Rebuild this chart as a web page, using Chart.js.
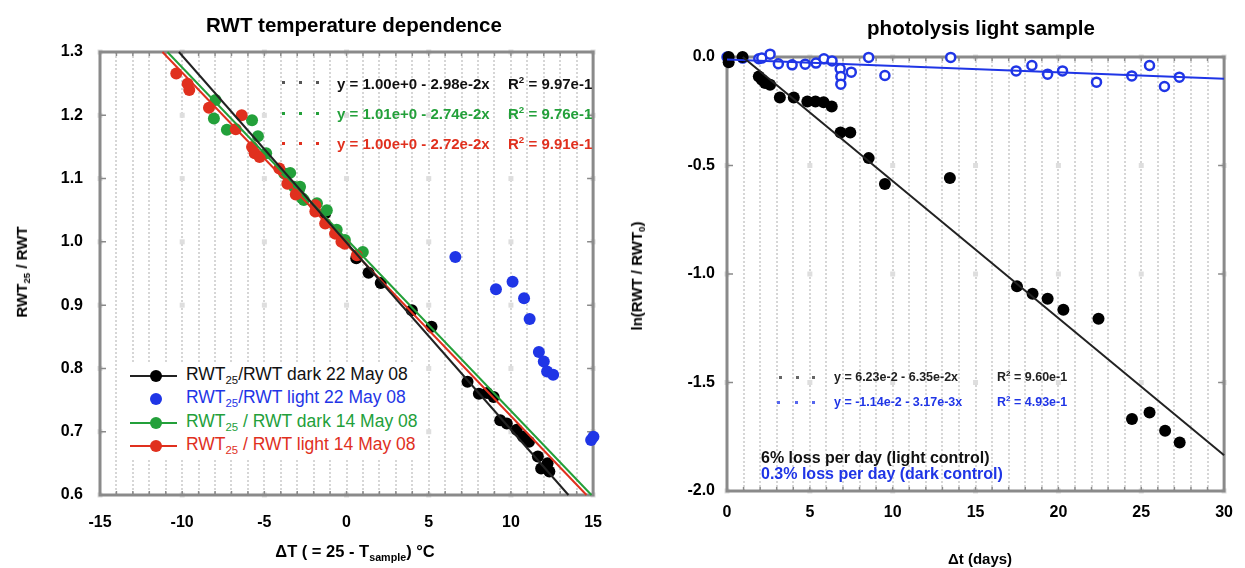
<!DOCTYPE html>
<html>
<head>
<meta charset="utf-8">
<script src="https://cdn.jsdelivr.net/npm/chart.js@4.4.1/dist/chart.umd.min.js"></script>
<style>
  body { margin: 0; background: #fff; width: 1245px; height: 568px; position: relative; overflow: hidden;
         font-family: "Liberation Sans", Arial, sans-serif; }
  .box { position: absolute; top: 0; width: 620px; height: 568px; }
  .t { position: absolute; white-space: nowrap; line-height: 1; transform: translateY(-50%); }
  .c { transform: translate(-50%, -50%); }
  .rot { transform: translate(-50%, -50%) rotate(-90deg); }
  .b { font-weight: bold; }
  .eq { font-weight: bold; font-size: 15px; }
  sub { font-size: 65%; vertical-align: -0.35em; }
  sup { font-size: 65%; vertical-align: 0.6em; }
  .dot { position: absolute; width: 3px; height: 3px; }
  .lg-line { position: absolute; height: 2px; width: 47px; left: 130px; }
  .lg-mark { position: absolute; width: 12px; height: 12px; border-radius: 50%; left: 150px; }
  .lg { font-size: 17.5px; }
</style>
</head>
<body>
<div class="box" style="left:0"><canvas id="left"></canvas></div>
<div class="box" style="left:625px"><canvas id="right"></canvas></div>

<!-- titles and axis titles -->
<div class="t c b" style="left:354px; top:25px; font-size:20.5px">RWT temperature dependence</div>
<div class="t c b" style="left:981px; top:28px; font-size:20.5px">photolysis light sample</div>
<div class="t rot b" style="left:23px; top:272px; font-size:15px">RWT<sub>25</sub> / RWT</div>
<div class="t rot b" style="left:638px; top:276px; font-size:15px">ln(RWT / RWT<sub>0</sub>)</div>
<div class="t c b" style="left:355px; top:553px; font-size:16.5px">ΔT ( = 25 - T<sub>sample</sub>) °C</div>
<div class="t c b" style="left:980px; top:558px; font-size:15px">Δt (days)</div>

<!-- left legend -->
<div style="position:absolute; left:118px; top:362px; width:300px; height:98px; background:#fff"></div>
<div class="lg-line" style="top:375px; background:#222"></div><div class="lg-mark" style="top:370px; background:#000"></div>
<div class="t lg" style="left:186px; top:376px; color:#111">RWT<sub>25</sub>/RWT dark 22 May 08</div>
<div class="lg-mark" style="top:393px; background:#1f35e6"></div>
<div class="t lg" style="left:186px; top:399px; color:#1f35e6">RWT<sub>25</sub>/RWT light 22 May 08</div>
<div class="lg-line" style="top:422px; background:#23a03a"></div><div class="lg-mark" style="top:417px; background:#23a03a"></div>
<div class="t lg" style="left:186px; top:423px; color:#23a03a">RWT<sub>25</sub> / RWT dark 14 May 08</div>
<div class="lg-line" style="top:445px; background:#e0301e"></div><div class="lg-mark" style="top:440px; background:#e0301e"></div>
<div class="t lg" style="left:186px; top:446px; color:#e0301e">RWT<sub>25</sub> / RWT light 14 May 08</div>

<!-- left fit equations -->
<div class="dot" style="left:282px; top:81px; background:#555"></div><div class="dot" style="left:299px; top:81px; background:#555"></div><div class="dot" style="left:316px; top:81px; background:#555"></div>
<div class="t eq" style="left:337px; top:83px; color:#111">y = 1.00e+0 - 2.98e-2x</div>
<div class="t eq" style="left:508px; top:83px; color:#111">R<sup>2</sup> = 9.97e-1</div>
<div class="dot" style="left:282px; top:112px; background:#23a03a"></div><div class="dot" style="left:299px; top:112px; background:#23a03a"></div><div class="dot" style="left:316px; top:112px; background:#23a03a"></div>
<div class="t eq" style="left:337px; top:113px; color:#23a03a">y = 1.01e+0 - 2.74e-2x</div>
<div class="t eq" style="left:508px; top:113px; color:#23a03a">R<sup>2</sup> = 9.76e-1</div>
<div class="dot" style="left:282px; top:142px; background:#e0301e"></div><div class="dot" style="left:299px; top:142px; background:#e0301e"></div><div class="dot" style="left:316px; top:142px; background:#e0301e"></div>
<div class="t eq" style="left:337px; top:143px; color:#e0301e">y = 1.00e+0 - 2.72e-2x</div>
<div class="t eq" style="left:508px; top:143px; color:#e0301e">R<sup>2</sup> = 9.91e-1</div>

<!-- right fit equations -->
<div class="dot" style="left:779px; top:376px; background:#666"></div><div class="dot" style="left:796px; top:376px; background:#666"></div><div class="dot" style="left:812px; top:376px; background:#666"></div>
<div class="t eq" style="left:834px; top:377px; font-size:12.5px; color:#222">y = 6.23e-2 - 6.35e-2x</div>
<div class="t eq" style="left:997px; top:377px; font-size:12.5px; color:#222">R<sup>2</sup> = 9.60e-1</div>
<div class="dot" style="left:777px; top:401px; background:#5566ee"></div><div class="dot" style="left:795px; top:401px; background:#5566ee"></div><div class="dot" style="left:812px; top:401px; background:#5566ee"></div>
<div class="t eq" style="left:834px; top:402px; font-size:12.5px; color:#1f35e6">y = -1.14e-2 - 3.17e-3x</div>
<div class="t eq" style="left:997px; top:402px; font-size:12.5px; color:#1f35e6">R<sup>2</sup> = 4.93e-1</div>
<div class="t eq" style="left:761px; top:458px; font-size:16px; color:#111">6% loss per day (light control)</div>
<div class="t eq" style="left:761px; top:474px; font-size:16px; color:#1f35e6">0.3% loss per day (dark control)</div>

<script>
// ---- left chart: RWT temperature dependence ----
const dark22X = [-2.9, -1.3, 0.59, 1.34, 2.08, 3.97, 5.17, 7.36, 8.05, 8.55, 8.95, 9.35, 9.75, 10.35, 10.74, 11.1, 11.64, 11.84, 12.23, 12.34];
const dark22Y = [1.085, 1.045, 0.974, 0.951, 0.935, 0.892, 0.866, 0.779, 0.760, 0.761, 0.755, 0.718, 0.713, 0.703, 0.692, 0.684, 0.661, 0.642, 0.650, 0.637];
const light22X = [6.62, 9.09, 10.1, 10.8, 11.14, 11.7, 12.0, 12.2, 12.57, 14.88, 15.02];
const light22Y = [0.976, 0.925, 0.937, 0.911, 0.878, 0.826, 0.811, 0.795, 0.790, 0.687, 0.692];
const dark14X = [-7.97, -8.07, -7.28, -5.75, -5.39, -4.89, -3.79, -3.43, -3.2, -2.9, -2.83, -2.7, -2.6, -1.8, -1.2, -0.6, -0.1, 0.99];
const dark14Y = [1.224, 1.195, 1.177, 1.192, 1.167, 1.140, 1.108, 1.109, 1.087, 1.082, 1.087, 1.069, 1.066, 1.061, 1.050, 1.019, 1.003, 0.984];
const light14X = [-10.36, -9.67, -9.57, -8.37, -6.38, -6.74, -5.75, -5.59, -5.29, -4.09, -3.6, -3.09, -1.9, -1.9, -1.3, -0.7, -0.31, -0.11, 0.63];
const light14Y = [1.266, 1.250, 1.240, 1.212, 1.200, 1.178, 1.150, 1.140, 1.134, 1.116, 1.092, 1.075, 1.058, 1.048, 1.029, 1.013, 1.000, 0.997, 0.979];
// fit lines, end points
const fitDark22X = [-10.2, 13.5], fitDark22Y = [1.3, 0.6];
const fitDark14X = [-10.9, 14.9], fitDark14Y = [1.3, 0.6];
const fitLight14X = [-11.2, 14.6], fitLight14Y = [1.3, 0.6];
const leftXTicks = [-15, -10, -5, 0, 5, 10, 15];
const leftYTicks = [0.6, 0.7, 0.8, 0.9, 1.0, 1.1, 1.2, 1.3];

// ---- right chart: photolysis light sample ----
const lightDaysX = [0.1, 0.1, 0.94, 1.92, 2.1, 2.3, 2.6, 3.19, 4.03, 4.85, 5.34, 5.83, 6.32, 6.85, 7.44, 8.55, 9.53, 13.45, 17.5, 18.44, 19.35, 20.3, 22.42, 24.44, 25.5, 26.44, 27.32];
const lightLnY = [0.0, -0.024, 0.0, -0.09, -0.105, -0.12, -0.128, -0.187, -0.187, -0.205, -0.205, -0.208, -0.228, -0.348, -0.348, -0.466, -0.585, -0.558, -1.057, -1.091, -1.114, -1.165, -1.206, -1.668, -1.638, -1.722, -1.776];
const darkDaysX = [0.0, 0.95, 1.92, 2.1, 2.6, 3.1, 3.93, 4.72, 5.37, 5.85, 6.34, 6.83, 6.87, 6.87, 7.5, 8.55, 9.53, 13.5, 17.45, 18.4, 19.35, 20.25, 22.3, 24.43, 25.5, 26.4, 27.3];
const darkLnY = [0.0, -0.005, -0.008, -0.005, 0.013, -0.031, -0.036, -0.033, -0.028, -0.008, -0.018, -0.054, -0.09, -0.125, -0.07, -0.002, -0.085, -0.002, -0.064, -0.039, -0.079, -0.064, -0.116, -0.087, -0.039, -0.136, -0.093];
const fitLightX = [0.95, 30], fitLightY = [0, -1.835];
const fitDarkX = [0, 30], fitDarkY = [-0.011, -0.10];
const rightXTicks = [0, 5, 10, 15, 20, 25, 30];
const rightYTicks = [-2.0, -1.5, -1.0, -0.5, 0.0];

const BLACK = '#000', BLUE = '#1f35e6', GREEN = '#23a03a', RED = '#e0301e';
const pts = (xs, ys) => xs.map((x, i) => ({ x, y: ys[i] }));

// frame, inward ticks and the little squares at major grid crossings
const framePlugin = {
  id: 'frame',
  beforeDatasetsDraw(chart, args, opts) {
    const { ctx, chartArea: a, scales: { x, y } } = chart;
    ctx.save();
    ctx.fillStyle = '#dedede';
    opts.xMajor.forEach(xv => opts.yMajor.forEach(yv => {
      ctx.fillRect(x.getPixelForValue(xv) - 2.5, y.getPixelForValue(yv) - 2.5, 5, 5);
    }));
    ctx.strokeStyle = '#8a8a8a';
    ctx.lineWidth = 1.5;
    ctx.beginPath();
    for (let v = x.min; v <= x.max; v++) {
      const px = x.getPixelForValue(v);
      ctx.moveTo(px, a.bottom); ctx.lineTo(px, a.bottom - 4);
      ctx.moveTo(px, a.top); ctx.lineTo(px, a.top + 4);
    }
    opts.yMajor.forEach(v => {
      const py = y.getPixelForValue(v);
      ctx.moveTo(a.left, py); ctx.lineTo(a.left + 6, py);
      ctx.moveTo(a.right, py); ctx.lineTo(a.right - 6, py);
    });
    ctx.stroke();
    ctx.lineWidth = 3;
    ctx.strokeRect(a.left, a.top, a.right - a.left, a.bottom - a.top);
    ctx.restore();
  }
};

function makeChart(id, cfg) {
  const xLabels = cfg.xTicks, yLabels = cfg.yTicks;
  return new Chart(document.getElementById(id), {
    type: 'scatter',
    data: { datasets: cfg.datasets },
    plugins: [framePlugin],
    options: {
      responsive: true,
      maintainAspectRatio: false,
      animation: false,
      layout: { padding: cfg.padding },
      plugins: {
        legend: { display: false },
        tooltip: { enabled: false },
        frame: { xMajor: xLabels, yMajor: yLabels }
      },
      scales: {
        x: {
          type: 'linear', min: xLabels[0], max: xLabels[xLabels.length - 1],
          afterFit: s => { s.height = cfg.xHeight; },
          border: { display: false, dash: [2, 2] },
          grid: { color: '#d6d6d6', lineWidth: 2, drawTicks: false },
          ticks: {
            stepSize: 1, autoSkip: false, maxRotation: 0, padding: cfg.xPad, color: '#000',
            font: { family: 'Liberation Sans', size: 16, weight: 'bold' },
            callback: v => (xLabels.includes(Math.round(v)) && Math.abs(v - Math.round(v)) < 1e-6) ? String(Math.round(v)) : ''
          }
        },
        y: {
          type: 'linear', min: yLabels[0], max: yLabels[yLabels.length - 1],
          afterFit: s => { s.width = cfg.yWidth; },
          border: { display: false },
          grid: { display: false, drawTicks: false },
          ticks: {
            stepSize: yLabels[1] - yLabels[0], padding: cfg.yPad, color: '#000',
            font: { family: 'Liberation Sans', size: 16, weight: 'bold' },
            callback: v => Number(v).toFixed(1)
          }
        }
      }
    }
  });
}

const fitLine = (xs, ys, color) => ({
  data: pts(xs, ys), showLine: true, borderColor: color, borderWidth: 2,
  pointRadius: 0, order: 0, clip: false
});
const dots = (xs, ys, color, order) => ({
  data: pts(xs, ys), backgroundColor: color, borderColor: color, borderWidth: 0,
  pointRadius: 6, order, clip: false
});

makeChart('left', {
  xTicks: leftXTicks, yTicks: leftYTicks,
  padding: { top: 52, right: 15, left: 0, bottom: 0 },
  xHeight: 73, yWidth: 100, xPad: 18, yPad: 17,
  datasets: [
    fitLine(fitDark22X, fitDark22Y, '#222'),
    fitLine(fitLight14X, fitLight14Y, RED),
    fitLine(fitDark14X, fitDark14Y, GREEN),
    dots(light14X, light14Y, RED, 1),
    dots(light22X, light22Y, BLUE, 1),
    dots(dark14X, dark14Y, GREEN, 2),
    dots(dark22X, dark22Y, BLACK, 3)
  ]
});

makeChart('right', {
  xTicks: rightXTicks, yTicks: rightYTicks,
  padding: { top: 57, right: 8, left: 0, bottom: 0 },
  xHeight: 77, yWidth: 102, xPad: 12, yPad: 12,
  datasets: [
    fitLine(fitLightX, fitLightY, '#222'),
    fitLine(fitDarkX, fitDarkY, BLUE),
    dots(lightDaysX, lightLnY, BLACK, 1),
    { data: pts(darkDaysX, darkLnY), backgroundColor: '#fff', borderColor: BLUE, borderWidth: 2.5,
      pointRadius: 4.5, order: 2, clip: false }
  ]
});
</script>
</body>
</html>
